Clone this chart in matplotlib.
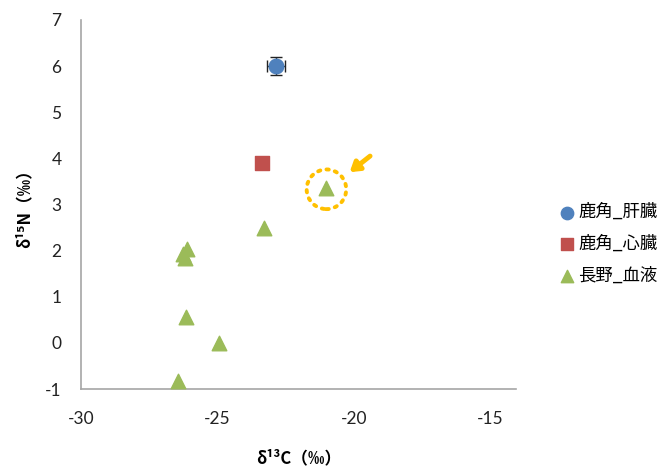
import numpy as np
import matplotlib
matplotlib.use("Agg")
import matplotlib.pyplot as plt
from matplotlib.patches import Ellipse

plt.rcParams['font.family'] = ['Noto Sans CJK JP', 'DejaVu Sans']
plt.rcParams['axes.unicode_minus'] = False

# data
liver_x = [-22.85]
liver_y = [6.0]
liver_xerr = [0.33]
liver_yerr = [0.19]

heart_x = [-23.35]
heart_y = [3.91]

blood_x = [-21.0, -23.3, -26.1, -26.25, -26.2, -26.15, -24.95, -26.45]
blood_y = [3.36, 2.48, 2.04, 1.93, 1.83, 0.57, 0.0, -0.83]

labels = ["鹿角_肝臓", "鹿角_心臓", "長野_血液"]
x_ticks = [-30, -25, -20, -15]
y_ticks = list(range(-1, 8))

fig = plt.figure(figsize=(6.63, 4.66), dpi=100)
ax = fig.add_axes([81 / 663, 1 - 389 / 466, 435 / 663, 369 / 466])

ax.errorbar(liver_x, liver_y, xerr=liver_xerr, yerr=liver_yerr, fmt='none',
            ecolor='#222222', elinewidth=1, capsize=4, zorder=2)
ax.scatter(liver_x, liver_y, marker='o', s=110, color='#4F81BD', label=labels[0], zorder=3)
ax.scatter(heart_x, heart_y, marker='s', s=100, color='#C0504D', label=labels[1], zorder=3)
ax.scatter(blood_x, blood_y, marker='^', s=110, color='#9BBB59', label=labels[2], zorder=3)

# dotted highlight circle + arrow
ax.add_patch(Ellipse((-21.0, 3.33), 1.45, 0.86, fill=False, edgecolor='#FFC000',
                     linestyle=(0, (0.6, 1.6)), linewidth=2.8, capstyle='round', zorder=4))
ax.annotate("", xy=(-20.15, 3.7), xytext=(-19.4, 4.05),
            arrowprops=dict(arrowstyle='-|>,head_length=0.55,head_width=0.35', color='#FFC000',
                            lw=3.5, shrinkA=0, shrinkB=0), zorder=4)

ax.set_xlim(-30, -14.05)
ax.set_ylim(-1, 7)
ax.set_xticks(x_ticks)
ax.set_yticks(y_ticks)
ax.tick_params(length=0, labelsize=12.5, colors='#222222')
ax.tick_params(axis='x', pad=16)
ax.tick_params(axis='y', pad=14)
for lab in ax.get_xticklabels() + ax.get_yticklabels():
    lab.set_fontfamily('Lato')
for s in ['top', 'right']:
    ax.spines[s].set_visible(False)
for s in ['left', 'bottom']:
    ax.spines[s].set_color('#A6A6A6')
    ax.spines[s].set_linewidth(1.2)

ax.set_xlabel("δ¹³C（‰）", fontsize=12, fontweight='bold', labelpad=16)
ax.set_ylabel("δ¹⁵N（‰）", fontsize=12, fontweight='bold', labelpad=8)

fig.legend(loc='center left', bbox_to_anchor=(540 / 663, 1 - 244 / 466), frameon=False,
           fontsize=12.5, handletextpad=0.0, labelspacing=0.8, markerscale=0.85,
           handlelength=1.3)

fig.savefig("out.png", dpi=100)
